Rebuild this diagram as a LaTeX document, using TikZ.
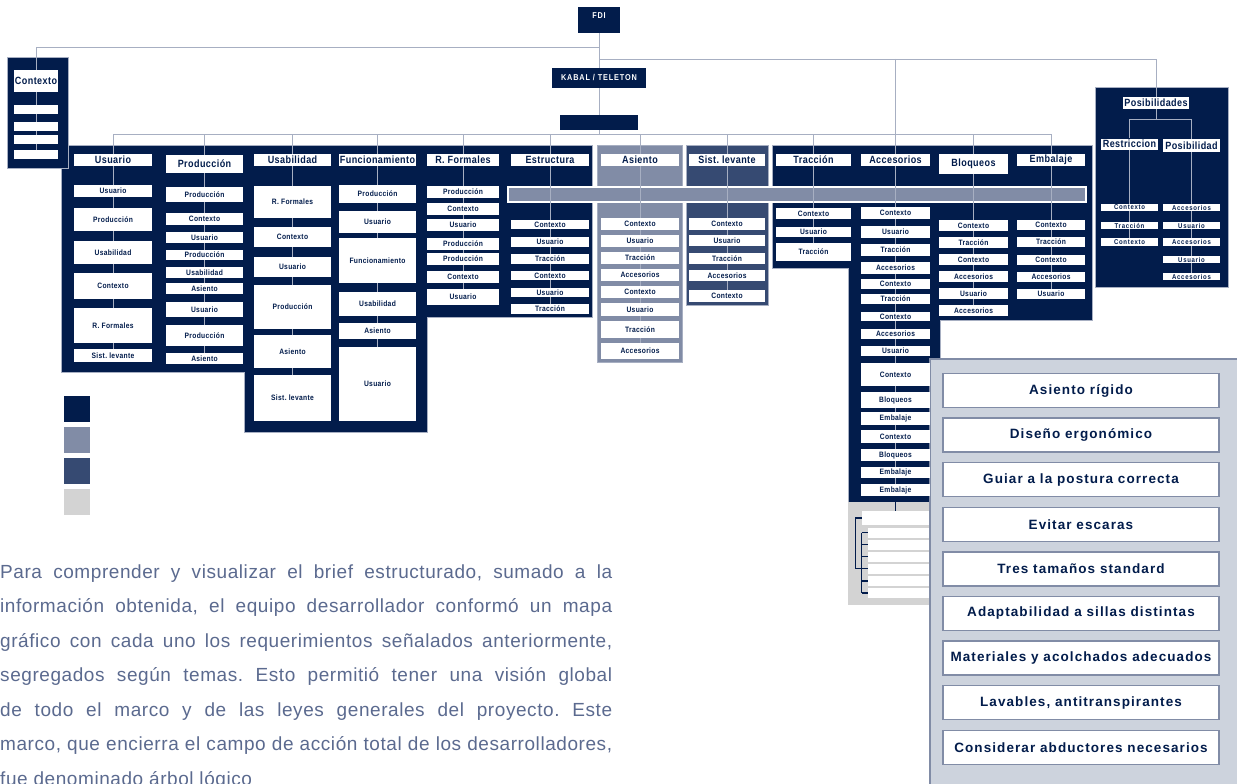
\documentclass[tikz,border=0pt]{standalone}
\usepackage{fontspec}
\usepackage{tikz}
\usetikzlibrary{positioning,calc}
\setmainfont{Liberation Sans}
\newfontfamily\labelfont{Liberation Sans}[FakeStretch=0.86,LetterSpace=4]
\newfontfamily\tinyfont{Liberation Sans}[FakeStretch=0.86,LetterSpace=10]
\newfontfamily\panelfont{Liberation Sans}[LetterSpace=8]
\newfontfamily\parafont{Liberation Sans}[LetterSpace=3]
\definecolor{navy}{HTML}{021C4B}
\definecolor{steel}{HTML}{818CA6}
\definecolor{slate}{HTML}{364A72}
\definecolor{fog}{HTML}{D3D3D3}
\definecolor{mist}{HTML}{CDD3DD}
\definecolor{linkc}{HTML}{A7AFC2}
\definecolor{ink}{HTML}{5B6A8F}
\pgfdeclarelayer{bg}
\pgfdeclarelayer{lines}
\pgfsetlayers{bg,lines,main}
\frenchspacing

\begin{document}
\begin{tikzpicture}[x=1pt, y=-1pt,
    panel/.style={fill=navy, draw=linkc, line width=0.8pt},
    topbox/.style={fill=navy, text=white, inner sep=0pt, font=\tinyfont\bfseries\fontsize{8.5}{9}\selectfont},
    hdr/.style={fill=white, text=navy, inner sep=0pt, font=\labelfont\bfseries\fontsize{10.5}{10.5}\selectfont},
    itm/.style={fill=white, text=navy, inner sep=0pt, font=\labelfont\bfseries\fontsize{7.8}{8}\selectfont},
    tiny/.style={fill=white, text=navy, inner sep=0pt, font=\tinyfont\bfseries\fontsize{7}{7}\selectfont},
    need/.style={fill=white, draw=steel, line width=1.5pt, text=navy, inner sep=0pt,
        minimum width=276, minimum height=34, font=\panelfont\bfseries\fontsize{13.5}{14}\selectfont},
    link/.style={draw=linkc, line width=0.9pt},
    brk/.style={draw=navy, line width=1.2pt},
    para/.style={text=ink, inner sep=0pt, font=\parafont\fontsize{19}{19}\selectfont}]

    \useasboundingbox (0,0) rectangle (1237,784);

    % Panels behind the tree
    \begin{pgfonlayer}{bg}
        \fill[white] (0,0) rectangle (1237,784);
        \draw[panel] (61,145) -- (592,145) -- (592,317) -- (427,317) -- (427,432) -- (244,432) -- (244,372) -- (61,372) -- cycle;
        \draw[panel] (7,57) rectangle (68,168);
        \draw[fill=steel, draw=linkc, line width=0.8pt] (597,145) rectangle (682,362);
        \draw[fill=slate, draw=linkc, line width=0.8pt] (686,145) rectangle (768,305);
        \draw[panel] (772,145) -- (1092,145) -- (1092,320) -- (940,320) -- (940,502) -- (848,502) -- (848,268) -- (772,268) -- cycle;
        \fill[fog] (848,502) rectangle (930,605);
        \draw[panel] (1095,87) rectangle (1228,287);
        \draw[fill=mist, draw=steel, line width=1.5pt] (930,359) rectangle (1245,800);
        \draw[fill=steel, draw=white, line width=1.5pt] (508,187) rectangle (1086,202);
    \end{pgfonlayer}

    % Root of the tree
    \node[topbox, minimum width=42, minimum height=26, text depth=8pt] (fdi) at (599,20) {FDI};
    \node[topbox, minimum width=94, minimum height=20] (kabal) at (599,78) {KABAL / TELETON};
    \node[topbox, minimum width=78, minimum height=15] (blank) at (599,122.5) {};
    \coordinate (knot1) at (599,47);
    \coordinate (knot2) at (599,59);
    \coordinate (split) at (599,134);

    % Contexto branch
    \node[hdr, minimum width=44, minimum height=22] (ctx-h) at (36,81) {Contexto};
    \foreach \ya [count=\k] in {105,122,135,150}
        \node[itm, minimum width=44, minimum height=9] (ctx-\k) at (36,\ya+4.5) {};

    % Column headers
    \foreach \key/\lbl/\xl/\xr/\ya/\yb in {usu/Usuario/74/152/154/166, pro/Producción/166/243/155/173,
        usa/Usabilidad/254/331/154/166, fun/Funcionamiento/339/416/154/166, rfo/R. Formales/427/499/154/166,
        est/Estructura/511/589/154/166, asi/Asiento/601/679/154/166, sis/Sist. levante/689/765/154/166,
        tra/Tracción/776/851/154/166, acc/Accesorios/861/930/154/166, blo/Bloqueos/939/1008/154/174,
        emb/Embalaje/1017/1085/154/166} {
        \node[hdr, minimum width=\xr-\xl, minimum height=\yb-\ya] (\key-h) at ({(\xl+\xr)/2},{(\ya+\yb)/2}) {\lbl};
        \begin{pgfonlayer}{lines}
            \draw[link] (split) -| (\key-h);
        \end{pgfonlayer}
    }

    % Column items
    \foreach \key/\xl/\xr/\rows in {
        usu/74/152/{Usuario/185/197, Producción/208/231, Usabilidad/241/264, Contexto/273/299, R. Formales/308/343, Sist. levante/349/362},
        pro/166/243/{Producción/187/202, Contexto/213/225, Usuario/232/243, Producción/250/260, Usabilidad/267/278, Asiento/283/294, Usuario/302/317, Producción/325/346, Asiento/353/364},
        usa/254/331/{R. Formales/186/218, Contexto/227/247, Usuario/257/277, Producción/285/329, Asiento/335/368, Sist. levante/375/421},
        fun/339/416/{Producción/185/203, Usuario/211/233, Funcionamiento/238/283, Usabilidad/292/316, Asiento/323/339, Usuario/347/421},
        rfo/427/499/{Producción/186/198, Contexto/203/215, Usuario/219/231, Producción/238/250, Producción/253/265, Contexto/271/283, Usuario/289/305},
        est/511/589/{Contexto/220/229, Usuario/237/247, Tracción/254/264, Contexto/271/280, Usuario/288/297, Tracción/304/314},
        asi/601/679/{Contexto/218/230, Usuario/235/247, Tracción/252/264, Accesorios/269/281, Contexto/286/298, Usuario/303/316, Tracción/321/338, Accesorios/343/359},
        sis/689/765/{Contexto/218/230, Usuario/235/246, Tracción/253/264, Accesorios/270/281, Contexto/290/302},
        tra/776/851/{Contexto/208/219, Usuario/227/237, Tracción/243/261},
        acc/861/930/{Contexto/207/219, Usuario/226/238, Tracción/244/256, Accesorios/262/274, Contexto/279/289, Tracción/294/304, Contexto/312/321, Accesorios/329/339, Usuario/346/356, Contexto/363/386, Bloqueos/392/408, Embalaje/412/425, Contexto/430/443, Bloqueos/449/461, Embalaje/467/478, Embalaje/484/496},
        blo/939/1008/{Contexto/220/231, Tracción/237/248, Contexto/254/265, Accesorios/271/282, Usuario/288/299, Accesorios/305/316},
        emb/1017/1085/{Contexto/220/230, Tracción/237/247, Contexto/255/265, Accesorios/272/282, Usuario/289/299}} {
        \foreach \lbl/\ya/\yb [count=\i] in \rows {
            \node[itm, minimum width=\xr-\xl, minimum height=\yb-\ya] (\key-\i) at ({(\xl+\xr)/2},{(\ya+\yb)/2}) {\lbl};
            \begin{pgfonlayer}{lines}
                \draw[link] (\key-h) -- (\key-\i);
            \end{pgfonlayer}
        }
    }

    % Posibilidades branch
    \node[hdr, minimum width=66, minimum height=12] (pos-h) at (1156,103) {Posibilidades};
    \coordinate (posk) at (1156,119);
    \node[hdr, minimum width=57, minimum height=11] (res-h) at (1129.5,144) {Restriccion};
    \node[hdr, minimum width=57, minimum height=13] (psb-h) at (1191.5,145.5) {Posibilidad};
    \foreach \key/\xc/\rows in {res/1129.5/{Contexto/204/211, Tracción/222/229, Contexto/238/246},
        psb/1191.5/{Accesorios/204/211, Usuario/222/229, Accesorios/238/246, Usuario/256/263, Accesorios/273/280}} {
        \foreach \lbl/\ya/\yb [count=\i] in \rows {
            \node[tiny, minimum width=57, minimum height=\yb-\ya] (\key-\i) at (\xc,{(\ya+\yb)/2}) {\lbl};
            \begin{pgfonlayer}{lines}
                \draw[link] (\key-h) -- (\key-\i);
            \end{pgfonlayer}
        }
    }

    % Tail under Accesorios
    \node[fill=white, inner sep=0pt, minimum width=67, minimum height=14] (tl-0) at (895.5,518) {};
    \foreach \k in {1,...,6}
        \node[fill=white, inner sep=0pt, minimum width=61, minimum height=10] (tl-\k) at (898.5,{532.5+12.1*(\k-1)}) {};

    % Connectors
    \begin{pgfonlayer}{lines}
        \draw[link] (fdi) -- (kabal) -- (blank) -- (split);
        \draw[link] (knot1) -| (ctx-h);
        \draw[link] (ctx-h) -- (ctx-4);
        \draw[link] (knot2) -| (pos-h);
        \draw[link] (acc-h |- knot2) -- (acc-h);
        \draw[link] (pos-h) -- (posk);
        \draw[link] (posk) -| (res-h);
        \draw[link] (posk) -| (psb-h);
        \draw[brk, line width=0.9pt] (acc-16) -- (tl-0);
    \end{pgfonlayer}
    \draw[brk] (tl-0.west) -- ++(-6,0) |- ([xshift=-6pt]tl-4.west);
    \draw[brk] ([xshift=-6pt]tl-1.west) -- ([xshift=-6pt]tl-6.west);
    \foreach \k in {1,...,6}
        \draw[brk] ([xshift=-6pt]tl-\k.west) -- (tl-\k.west);

    % Colour key
    \foreach \shade [count=\k] in {navy,steel,slate,fog}
        \node[fill=\shade, inner sep=0pt, minimum size=26] (leg-\k) at (77,{409+31*(\k-1)}) {};

    % Requirements panel
    \foreach \lbl [count=\k] in {Asiento rígido, Diseño ergonómico, Guiar a la postura correcta, Evitar escaras,
        Tres tamaños standard, Adaptabilidad a sillas distintas, Materiales y acolchados adecuados,
        {Lavables, antitranspirantes}, Considerar abductores necesarios}
        \node[need] (need-\k) at (1081,{390.5+44.6*(\k-1)}) {\lbl};

    % Text block
    \foreach \txt [count=\k] in {{Para comprender y visualizar el brief estructurado, sumado a la},
        {información obtenida, el equipo desarrollador conformó un mapa},
        {gráfico con cada uno los requerimientos señalados anteriormente,},
        {segregados según temas. Esto permitió tener una visión global},
        {de todo el marco y de las leyes generales del proyecto. Este},
        {marco, que encierra el campo de acción total de los desarrolladores,}}
        \node[para, anchor=base west] (brief-\k) at (0,{578+34.5*(\k-1)}) {\makebox[612pt][s]{\txt}};
    \node[para, anchor=base west] (brief-7) at (0,785) {fue denominado árbol lógico};

\end{tikzpicture}
\end{document}
